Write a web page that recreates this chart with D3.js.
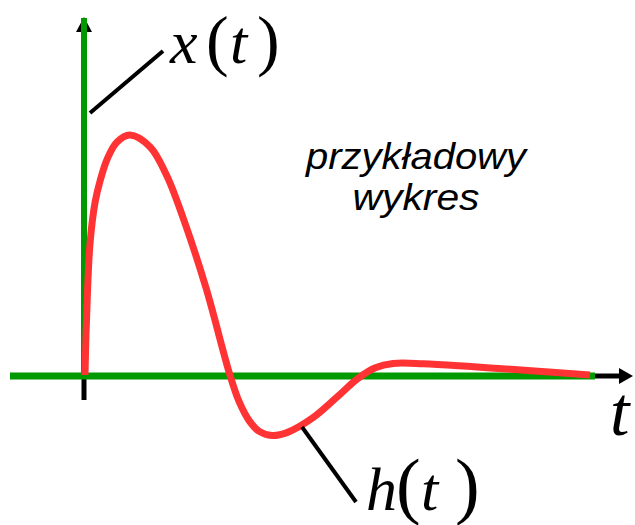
<!DOCTYPE html>
<html><head><meta charset="utf-8">
<script src="https://cdn.jsdelivr.net/npm/d3@7"></script>
<style>html,body{margin:0;padding:0;background:#fff;}</style>
</head><body>
<svg id="c" width="635" height="525"></svg>
<script>
// Sample impulse response h(t) (data units)
const tValues = [0, 0.02, 0.05, 0.10, 0.20, 0.30, 0.44, 0.63, 0.89, 1.29, 1.62, 2.0, 2.4, 2.87, 3.05, 3.25, 3.45, 3.7, 4.0, 4.5, 5.0, 5.4, 5.75, 6.1, 6.7, 7.7, 8.7, 10];
const hValues = [0, 0.17, 0.35, 0.55, 0.72, 0.81, 0.90, 0.97, 1.00, 0.95, 0.83, 0.62, 0.36, 0, -0.11, -0.19, -0.235, -0.252, -0.24, -0.18, -0.09, -0.015, 0.03, 0.048, 0.047, 0.034, 0.02, 0];
const xDomain = [0, 10];
const yDomain = [0, 1];
const axisLabels = ["t", "x", "h"];
const captionLines = ["przykładowy", "wykres"];

const svg = d3.select("#c");
const x = d3.scaleLinear().domain(xDomain).range([85, 590]);
const y = d3.scaleLinear().domain(yDomain).range([375, 135]);
const green = "#009900";

// vertical axis arrowhead + line
const x0 = x(0) - 1, y0 = y(0) + 1;
svg.append("path").attr("d", `M${x0},17 L${x0-8},32 L${x0+8},32 Z`).attr("fill", "#000");
svg.append("line").attr("x1", x0).attr("x2", x0).attr("y1", 18).attr("y2", y0 + 3)
  .attr("stroke", green).attr("stroke-width", 6);
// small black tick below origin
svg.append("line").attr("x1", x0).attr("x2", x0).attr("y1", y0).attr("y2", 400)
  .attr("stroke", "#000").attr("stroke-width", 5);
// horizontal axis
svg.append("line").attr("x1", 595).attr("x2", 622).attr("y1", y0).attr("y2", y0)
  .attr("stroke", "#000").attr("stroke-width", 5);
svg.append("path").attr("d", `M633,${y0} L619,${y0-8} L619,${y0+8} Z`).attr("fill", "#000");
svg.append("line").attr("x1", 10).attr("x2", 595).attr("y1", y0).attr("y2", y0)
  .attr("stroke", green).attr("stroke-width", 7);

// red curve
const pts = tValues.map((t, i) => [t, hValues[i]]);
svg.append("path").datum(pts)
  .attr("d", d3.line().x(d => x(d[0])).y(d => y(d[1])).curve(d3.curveCatmullRom.alpha(0.5)))
  .attr("fill", "none").attr("stroke", "#ff3333").attr("stroke-width", 7)
  .attr("stroke-linecap", "butt").attr("stroke-linejoin", "round");

// leader lines
svg.append("line").attr("x1", 90).attr("y1", 113).attr("x2", 163).attr("y2", 51)
  .attr("stroke", "#000").attr("stroke-width", 4);
svg.append("line").attr("x1", 302).attr("y1", 427).attr("x2", 356).attr("y2", 502)
  .attr("stroke", "#000").attr("stroke-width", 4);

const serif = "'Liberation Serif','Times New Roman',serif";
function fn(name, xs, base, sizeLetter, sizeParen) {
  const t = svg.append("text").attr("y", base).attr("font-family", serif).attr("fill", "#000");
  t.append("tspan").attr("x", xs[0]).attr("font-style", "italic").attr("font-size", sizeLetter).text(name);
  t.append("tspan").attr("x", xs[1]).attr("font-size", sizeParen).text("(");
  t.append("tspan").attr("x", xs[2]).attr("font-style", "italic").attr("font-size", sizeLetter).text("t");
  t.append("tspan").attr("x", xs[3]).attr("font-size", sizeParen).text(")");
}
fn(axisLabels[1], [170, 206, 230, 257], 63, 62, 68);
fn(axisLabels[2], [366, 396, 421, 455], 510, 62, 74);

svg.append("text").attr("x", 610).attr("y", 435).attr("font-family", serif)
  .attr("font-style", "italic").attr("font-size", 70).text(axisLabels[0]);

const sans = "'Liberation Sans',Arial,sans-serif";
[[captionLines[0], 169, 220], [captionLines[1], 210, 127]].forEach(([s, yy, w]) => {
  svg.append("text").attr("font-family", sans).attr("font-style", "italic").attr("font-size", 36)
    .attr("x", 416 - w / 2).attr("y", yy).attr("textLength", w).attr("lengthAdjust", "spacingAndGlyphs")
    .attr("fill", "#000").text(s);
});
</script>
</body></html>
